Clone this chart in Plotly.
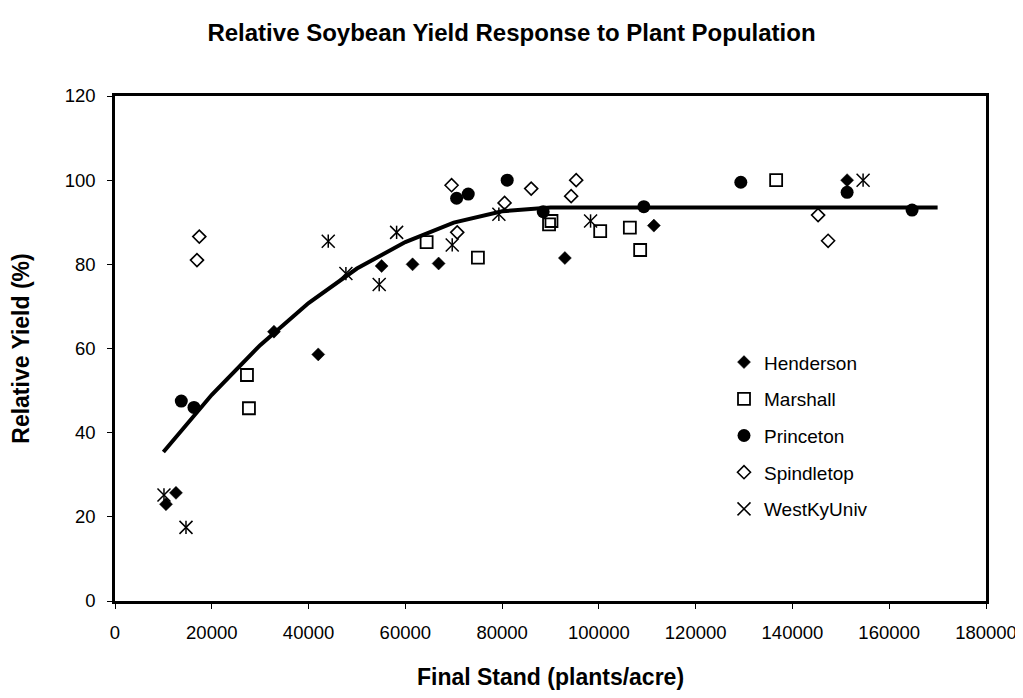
import plotly.graph_objects as go

# ---- data ----
henderson_x = [10540, 12600, 32850, 42000, 55100, 61500, 66880, 92970, 111360, 151300]
henderson_y = [23.0, 25.7, 64.0, 58.6, 79.6, 80.0, 80.2, 81.5, 89.2, 100.0]

marshall_x = [27270, 27680, 64400, 75000, 89700, 90200, 100270, 106400, 108530, 136630]
marshall_y = [53.7, 45.8, 85.3, 81.6, 89.5, 90.3, 87.9, 88.7, 83.4, 100.0]

princeton_x = [13700, 16320, 70600, 73000, 81050, 88490, 109290, 129330, 151300, 164720]
princeton_y = [47.5, 46.0, 95.7, 96.7, 100.0, 92.5, 93.7, 99.5, 97.1, 92.9]

spindletop_x = [17420, 16940, 69560, 70720, 80510, 86010, 94270, 95310, 145300, 147370]
spindletop_y = [86.6, 81.0, 98.8, 87.6, 94.6, 98.0, 96.2, 100.0, 91.7, 85.6]

westky_x = [10120, 14670, 44070, 47720, 54600, 58200, 69690, 79330, 98280, 154600]
westky_y = [25.2, 17.5, 85.5, 77.8, 75.2, 87.6, 84.6, 91.9, 90.3, 100.0]

fit_x = [10000, 20000, 30000, 40000, 50000, 60000, 70000, 80000, 90000, 170000]
fit_y = [35.4, 49.0, 60.8, 70.8, 79.0, 85.3, 89.9, 92.6, 93.5, 93.5]

x_ticks = [0, 20000, 40000, 60000, 80000, 100000, 120000, 140000, 160000, 180000]
y_ticks = [0, 20, 40, 60, 80, 100, 120]

FONT = "Liberation Sans, Arial, sans-serif"

fig = go.Figure()

fig.add_trace(go.Scatter(x=fit_x, y=fit_y, mode="lines", showlegend=False,
                         line=dict(color="black", width=4), hoverinfo="skip"))

fig.add_trace(go.Scatter(x=henderson_x, y=henderson_y, mode="markers", name="Henderson",
                         legendgroup="g1",
                         marker=dict(symbol="diamond", size=10, color="black",
                                     line=dict(color="black", width=0.5))))
fig.add_trace(go.Scatter(x=marshall_x, y=marshall_y, mode="markers", name="Marshall",
                         legendgroup="g2",
                         marker=dict(symbol="square-open", size=12, color="black",
                                     line=dict(color="black", width=1.8))))
fig.add_trace(go.Scatter(x=princeton_x, y=princeton_y, mode="markers", name="Princeton",
                         legendgroup="g3",
                         marker=dict(symbol="circle", size=13, color="black")))
fig.add_trace(go.Scatter(x=spindletop_x, y=spindletop_y, mode="markers", name="Spindletop",
                         legendgroup="g4",
                         marker=dict(symbol="diamond-open", size=10, color="black",
                                     line=dict(color="black", width=1.6))))
fig.add_trace(go.Scatter(x=westky_x, y=westky_y, mode="markers", name="WestKyUniv",
                         legendgroup="g5",
                         marker=dict(symbol="x-thin-open", size=13, color="black",
                                     line=dict(color="black", width=1.5))))
fig.add_trace(go.Scatter(x=westky_x, y=westky_y, mode="markers", name="WestKyUniv",
                         legendgroup="g5", showlegend=False,
                         marker=dict(symbol="line-ns-open", size=9.5, color="black",
                                     line=dict(color="black", width=1.5))))

# page has an 8px body margin, so the figure is offset by 8px
W, H = 1015, 682
ML, MR, MT, MB = 107, 37, 87.5, 89
pw = W - ML - MR
ph = H - MT - MB

fig.update_layout(
    width=W, height=H,
    margin=dict(l=ML, r=MR, t=MT, b=MB, autoexpand=False),
    paper_bgcolor="white", plot_bgcolor="white",
    font=dict(family=FONT, color="black", size=18.5),
    title=dict(text="<b>Relative Soybean Yield Response to Plant Population</b>",
               x=(503.5) / W, xref="container", xanchor="center",
               y=1 - 25 / H, yref="container", yanchor="middle",
               font=dict(family=FONT, size=24, color="black")),
    showlegend=True,
    legend=dict(x=(716 - ML) / pw, xanchor="left",
                y=(H - MB - 335) / ph, yanchor="top",
                bgcolor="rgba(0,0,0,0)", borderwidth=0,
                font=dict(family=FONT, size=19, color="black"),
                tracegroupgap=9, itemwidth=30),
)

fig.update_xaxes(range=[0, 180000], tickvals=x_ticks, ticktext=[str(v) for v in x_ticks],
                 showgrid=False, zeroline=False,
                 showline=True, mirror=True, linecolor="black", linewidth=2.5,
                 ticks="outside", ticklen=5, tickwidth=1, tickcolor="black",
                 ticklabelstandoff=8, ticklabeloverflow="allow",
                 tickfont=dict(family=FONT, size=18.5, color="black"),
                 title=dict(text="<b>Final Stand (plants/acre)</b>", standoff=30,
                            font=dict(family=FONT, size=23, color="black")))
fig.update_yaxes(range=[0, 120], tickvals=y_ticks, ticktext=[str(v) for v in y_ticks],
                 showgrid=False, zeroline=False,
                 showline=True, mirror=True, linecolor="black", linewidth=2.5,
                 ticks="outside", ticklen=5, tickwidth=1, tickcolor="black",
                 ticklabelstandoff=8,
                 tickfont=dict(family=FONT, size=18.5, color="black"),
                 title=dict(text="<b>Relative Yield (%)</b>", standoff=30,
                            font=dict(family=FONT, size=23, color="black")))

fig.write_html("out.html")
